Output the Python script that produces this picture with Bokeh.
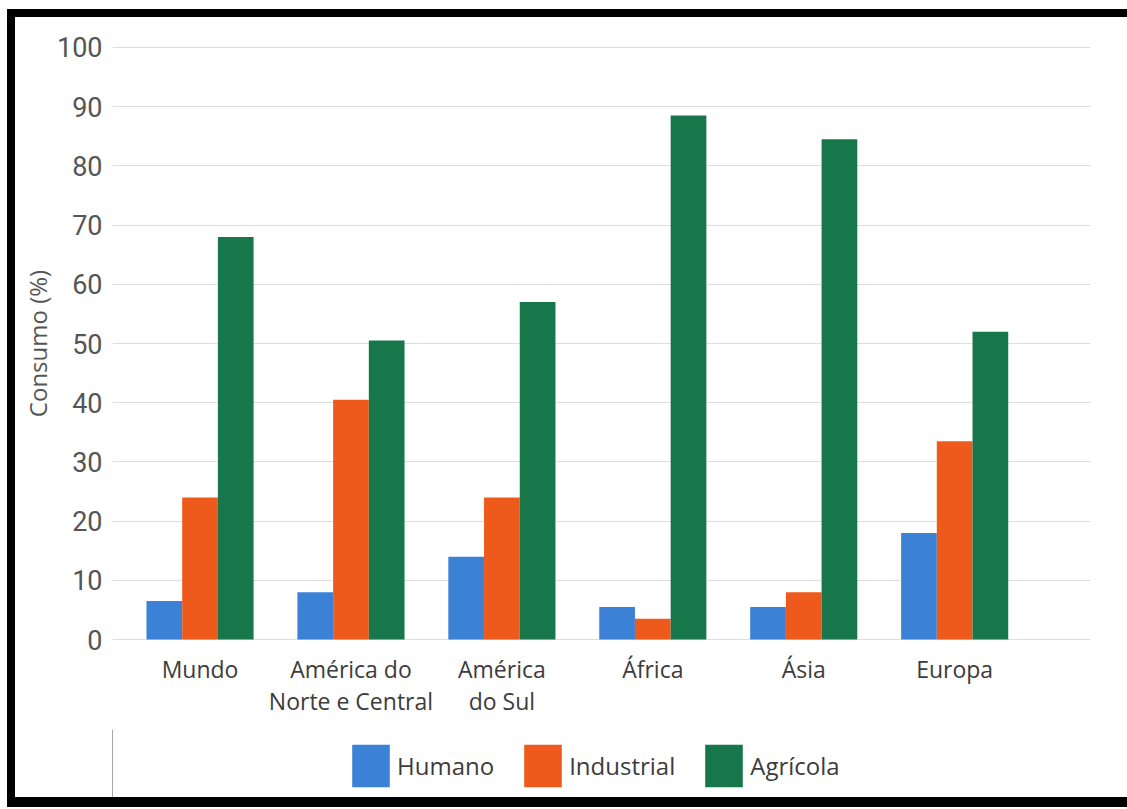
from bokeh.plotting import figure
from bokeh.models import ColumnDataSource, Range1d, FixedTicker, Legend, LegendItem, Div
from bokeh.layouts import column, row
from bokeh.transform import dodge
from bokeh.embed import file_html
from bokeh.resources import INLINE

# Water consumption by sector (%)
regions = ["Mundo", "América do\nNorte e Central", "América\ndo Sul", "África", "Ásia", "Europa"]
humano = [6.5, 8, 14, 5.5, 5.5, 18]
industrial = [24, 40.5, 24, 3.5, 8, 33.5]
agricola = [68, 50.5, 57, 88.5, 84.5, 52]
series_names = ["Humano", "Industrial", "Agrícola"]
y_ticks = [0, 10, 20, 30, 40, 50, 60, 70, 80, 90, 100]

colors = ["#3b82d6", "#ee5a1c", "#17774b"]
label_font = "Open Sans"
tick_font = "Roboto"

idx = list(range(len(regions)))
src = ColumnDataSource(dict(idx=idx, humano=humano, industrial=industrial, agricola=agricola))

p = figure(width=1112, height=712, output_backend="svg", toolbar_location=None,
           x_range=Range1d(-0.58, 5.90), y_range=Range1d(-0.5, 100.5),
           min_border_left=97, min_border_right=37, min_border_top=27, min_border_bottom=87)
p.outline_line_color = None
p.background_fill_color = "white"
p.border_fill_color = "white"
p.margin = 0

bw = 0.2366
fields = ["humano", "industrial", "agricola"]
for k, (f, c) in enumerate(zip(fields, colors)):
    p.vbar(x=dodge("idx", (k - 1) * bw, range=p.x_range), top=f, bottom=0, width=bw,
           source=src, fill_color=c, line_color=None)

# axes
p.xaxis.ticker = FixedTicker(ticks=idx)
p.xaxis.major_label_overrides = {i: name for i, name in enumerate(regions)}
p.xaxis.axis_line_color = None
p.xaxis.major_tick_line_color = None
p.xaxis.minor_tick_line_color = None
p.xaxis.major_tick_out = 0
p.xaxis.major_label_text_font = label_font
p.xaxis.major_label_text_font_size = "23px"
p.xaxis.major_label_text_color = "#3c3c3c"
p.xaxis.major_label_text_line_height = 1.0
p.xaxis.major_label_standoff = 10
p.xgrid.grid_line_color = None

p.yaxis.ticker = FixedTicker(ticks=y_ticks)
p.yaxis.axis_line_color = None
p.yaxis.major_tick_line_color = None
p.yaxis.minor_tick_line_color = None
p.yaxis.major_tick_out = 0
p.yaxis.major_tick_in = 0
p.yaxis.major_label_text_font = tick_font
p.yaxis.major_label_text_font_size = "27px"
p.yaxis.major_label_text_color = "#555555"
p.yaxis.major_label_standoff = 10
p.yaxis.axis_label = "Consumo (%)"
p.yaxis.axis_label_text_font = label_font
p.yaxis.axis_label_text_font_size = "24px"
p.yaxis.axis_label_text_font_style = "normal"
p.yaxis.axis_label_text_color = "#555555"
p.yaxis.axis_label_standoff = 0
p.ygrid.grid_line_color = "#dedede"
p.ygrid.grid_line_width = 1

# legend strip beneath the chart; its swatch renderers sit outside the visible range
lg = figure(width=1112, height=68, output_backend="svg", toolbar_location=None,
            x_range=Range1d(0, 1), y_range=Range1d(0, 1),
            x_axis_type=None, y_axis_type=None, min_border=0, margin=0)
lg.grid.visible = False
lg.outline_line_color = None
lg.border_fill_color = "white"
lg.background_fill_color = "white"
swatches = [lg.vbar(x=[-5], top=[1], bottom=0, width=0.1, fill_color=c, line_color=None)
            for c in colors]
legend = Legend(items=[LegendItem(label=n, renderers=[r]) for n, r in zip(series_names, swatches)],
                orientation="horizontal", location=(235, 5),
                glyph_width=47, glyph_height=53, label_standoff=3, spacing=25,
                label_text_font=label_font, label_text_font_size="24px",
                label_text_color="#3c3c3c", border_line_color=None,
                background_fill_alpha=0, margin=0, padding=0)
lg.add_layout(legend)

# heavy black rules framing the figure on top, left and bottom
black = {"background-color": "black", "overflow": "hidden", "font-size": "0px", "line-height": "0px"}
top_bar = Div(text="", width=1120, height=8, styles=black, margin=(9, 0, 0, 7))
left_bar = Div(text="", width=8, height=780, styles=black, margin=(0, 0, 0, 7))
bottom_bar = Div(text="", width=1120, height=10, styles=black, margin=(0, 0, 0, 7))
charts = column(p, lg, spacing=0, margin=0)
page = column(top_bar, row(left_bar, charts, spacing=0, margin=0), bottom_bar,
              spacing=0, margin=0, styles={"overflow": "hidden", "background-color": "white"})

open("out.html", "w").write(file_html(page, INLINE))
